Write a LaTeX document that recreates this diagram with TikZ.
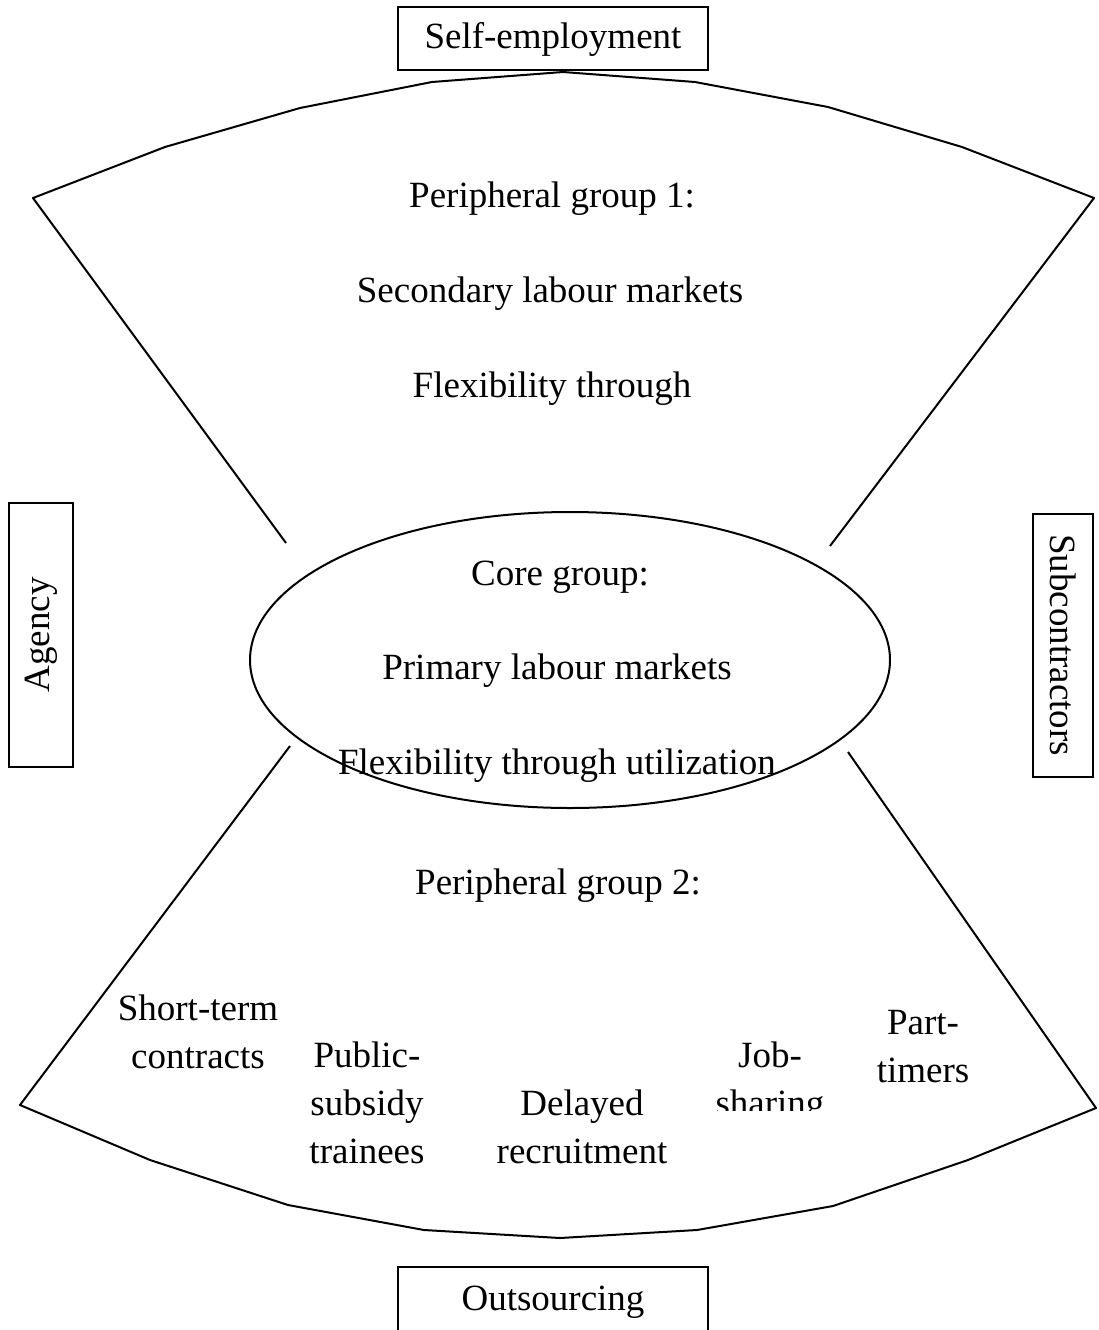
\documentclass[tikz,border=0pt]{standalone}
\usepackage{fontspec}
\setmainfont{Liberation Serif}
\usetikzlibrary{shapes.geometric}
\begin{document}
\begin{tikzpicture}[x=1pt,y=-1pt,
  lw/.style={line width=2pt},
  boxnode/.style={draw,lw,minimum width=310pt,minimum height=63pt,inner sep=0pt,font=\fontsize{37}{48}\selectfont},
  sidebox/.style={draw,lw,inner sep=0pt,font=\fontsize{37}{48}\selectfont},
  lbl/.style={font=\fontsize{37}{48}\selectfont,align=center,inner sep=0pt,anchor=base}]
\useasboundingbox (0,0) rectangle (1098,1330);
% boxes
\node[boxnode] (self) at (553,39) {Self-employment};
\begin{scope}
\clip (0,0) rectangle (1098,1330);
\node[boxnode,minimum height=80pt] (out) at (553,1307) {};
\end{scope}
\node[lbl] (outt) at (553,1310) {Outsourcing};
\node[sidebox,minimum width=264pt,minimum height=64pt,rotate=90] (agency) at (41,635) {Agency};
\node[sidebox,minimum width=263pt,minimum height=60pt,rotate=-90] (sub) at (1063,645) {Subcontractors};
% core ellipse
\node[draw,lw,ellipse,minimum width=640pt,minimum height=296pt,inner sep=0pt] (core) at (570,660) {};
% fan corners
\coordinate (tl) at (33,198);
\coordinate (tr) at (1094,198);
\coordinate (il) at (286,543);
\coordinate (ir) at (830,546);
\coordinate (bl) at (20,1105);
\coordinate (br) at (1096,1108);
\coordinate (jl) at (290,746);
\coordinate (jr) at (848,752);
\draw[lw,line join=round] (il) -- (tl) -- (165,147) -- (300,108) -- (432,82) -- (563,72) -- (695,82) -- (828,107) -- (962,147) -- (tr) -- (ir);
\draw[lw,line join=round] (jl) -- (bl) -- (150,1160) -- (288,1205) -- (424,1230) -- (560,1238) -- (697,1230) -- (833,1206) -- (968,1160) -- (br) -- (jr);
% texts
\node[lbl] (p1) at (552,207) {Peripheral group 1:};
\node[lbl] (s1) at (550,302) {Secondary labour markets};
\node[lbl] (f1) at (552,397) {Flexibility through};
\node[lbl] (c0) at (560,585) {Core group:};
\node[lbl] (c1) at (557,679) {Primary labour markets};
\node[lbl] (c2) at (557,774) {Flexibility through utilization};
\node[lbl] (p2) at (558,894) {Peripheral group 2:};
\node[lbl] (st) at (198,1068) {Short-term\\contracts};
\node[lbl] (ps) at (367,1163) {Public-\\subsidy\\trainees};
\node[lbl] (dr) at (582,1163) {Delayed\\recruitment};
\begin{scope}
\clip (660,1000) rectangle (880,1110);
\node[lbl] (js) at (770,1115) {Job-\\sharing};
\end{scope}
\node[lbl] (pt) at (923,1082) {Part-\\timers};
\end{tikzpicture}
\end{document}
